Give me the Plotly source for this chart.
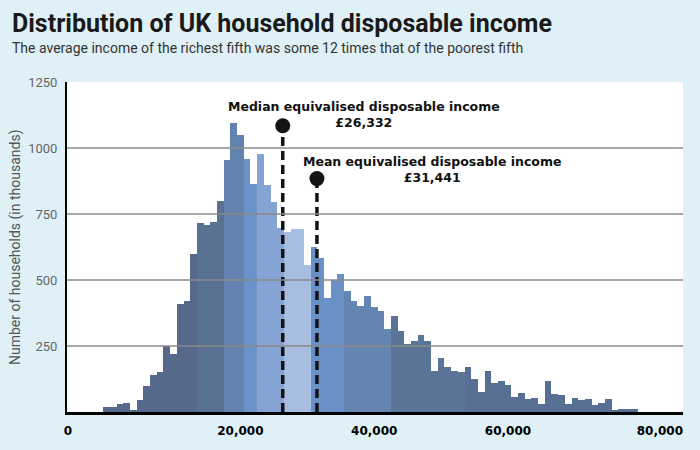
import plotly.graph_objects as go

# ---------------- data ----------------
BIN_WIDTH = 1000
BIN_CENTERS = [i * BIN_WIDTH for i in range(80)]
HOUSEHOLDS = [
    20, 20, 29, 34, 9, 45, 98, 142, 153, 251,
    220, 409, 419, 600, 717, 708, 721, 798, 955, 1094,
    1051, 957, 863, 977, 858, 795, 698, 680, 694, 694,
    556, 626, 585, 430, 500, 523, 457, 419, 402, 440,
    399, 383, 314, 365, 307, 258, 270, 292, 270, 157,
    204, 170, 157, 153, 170, 126, 76, 157, 110, 117,
    101, 56, 73, 48, 53, 31, 116, 69, 63, 31,
    53, 44, 49, 28, 33, 49, 8, 12, 10, 12,
]
BAND_START_BIN = [0, 14, 18, 21, 23, 27, 31, 36, 43, 54]
MEDIAN = 26332
MEAN = 31441
MEDIAN_LABEL = "Median equivalised disposable income<br>£26,332"
MEAN_LABEL = "Mean equivalised disposable income<br>£31,441"
TITLE = "Distribution of UK household disposable income"
SUBTITLE = "The average income of the richest fifth was some 12 times that of the poorest fifth"
Y_TITLE = "Number of households (in thousands)"
Y_TICKS = [250, 500, 750, 1000, 1250]
X_TICK_LABELS = ["0", "20,000", "40,000", "60,000", "80,000"]

# ---------------- styles ----------------
BAND_COLORS = ["#56698a", "#5a7291", "#6383ae", "#6b93c9", "#86a4d3",
               "#a8bee1", "#6a90c8", "#6585b1", "#5b7599", "#576f93"]
BG = "#dff1f7"
X_TICK_POS = [-5770, 20000, 40000, 60000, 82700]
X_RANGE = [-5919, 86159]
MEDIAN_DOT_Y = 1084
MEAN_DOT_Y = 884

colors = []
for i in range(len(HOUSEHOLDS)):
    band = 0
    for b, s in enumerate(BAND_START_BIN):
        if i >= s:
            band = b
    colors.append(BAND_COLORS[band])

fig = go.Figure()
fig.add_trace(go.Bar(
    x=BIN_CENTERS, y=HOUSEHOLDS, width=BIN_WIDTH,
    marker=dict(color=colors, line=dict(width=0)),
    hoverinfo="skip", showlegend=False,
))

for xv, ytop in [(MEDIAN, MEDIAN_DOT_Y), (MEAN, MEAN_DOT_Y)]:
    fig.add_trace(go.Scatter(
        x=[xv, xv], y=[0, ytop], mode="lines",
        line=dict(color="#141414", width=3.5, dash="9px,5px"),
        showlegend=False, hoverinfo="skip",
    ))
    fig.add_trace(go.Scatter(
        x=[xv], y=[ytop], mode="markers",
        marker=dict(color="#141414", size=15),
        showlegend=False, hoverinfo="skip",
    ))

shapes = []
for v in Y_TICKS[:-1]:
    shapes.append(dict(type="line", xref="paper", x0=0, x1=1, yref="y", y0=v, y1=v,
                       line=dict(color="#8a8a8a", width=1.5), layer="above"))

annot_font = dict(family="DejaVu Sans", size=12.5, color="#111111", weight="bold")
annotations = [
    dict(x=38476, y=1127, xref="x", yref="y", text=MEDIAN_LABEL,
         showarrow=False, align="center", font=annot_font),
    dict(x=48641, y=920, xref="x", yref="y", text=MEAN_LABEL,
         showarrow=False, align="center", font=annot_font),
    dict(x=-0.0844, y=0.5, xref="paper", yref="paper", text=Y_TITLE,
         textangle=-90, showarrow=False, xanchor="center", yanchor="middle",
         font=dict(family="Roboto", size=14, color="#555555")),
    dict(x=-0.0925, y=1.178, xref="paper", yref="paper", text=TITLE,
         showarrow=False, xanchor="left", yanchor="middle",
         font=dict(family="Roboto", size=25, color="#1a1a1a", weight="bold")),
    dict(x=-0.0925, y=1.102, xref="paper", yref="paper", text=SUBTITLE,
         showarrow=False, xanchor="left", yanchor="middle",
         font=dict(family="Roboto", size=14, color="#333333")),
]

fig.update_layout(
    width=700, height=450,
    margin=dict(l=67, r=17, t=82, b=36),
    paper_bgcolor=BG, plot_bgcolor="white",
    bargap=0,
    shapes=shapes,
    annotations=annotations,
    xaxis=dict(
        range=X_RANGE, showgrid=False, zeroline=False,
        showline=True, linecolor="black", linewidth=2.5,
        tickvals=X_TICK_POS, ticktext=X_TICK_LABELS, ticks="",
        tickfont=dict(family="DejaVu Sans", size=12, color="black", weight="bold"),
        ticklabelstandoff=6,
    ),
    yaxis=dict(
        range=[0, 1250], showgrid=False, zeroline=False,
        showline=True, linecolor="black", linewidth=2,
        tickvals=Y_TICKS, ticks="",
        tickfont=dict(family="Roboto", size=13, color="#666666"),
        ticklabelstandoff=5,
    ),
)

fig.write_html(
    "out.html",
    config={"displayModeBar": False},
    post_script="document.body.style.margin='0';document.body.style.background='" + BG + "';",
)
